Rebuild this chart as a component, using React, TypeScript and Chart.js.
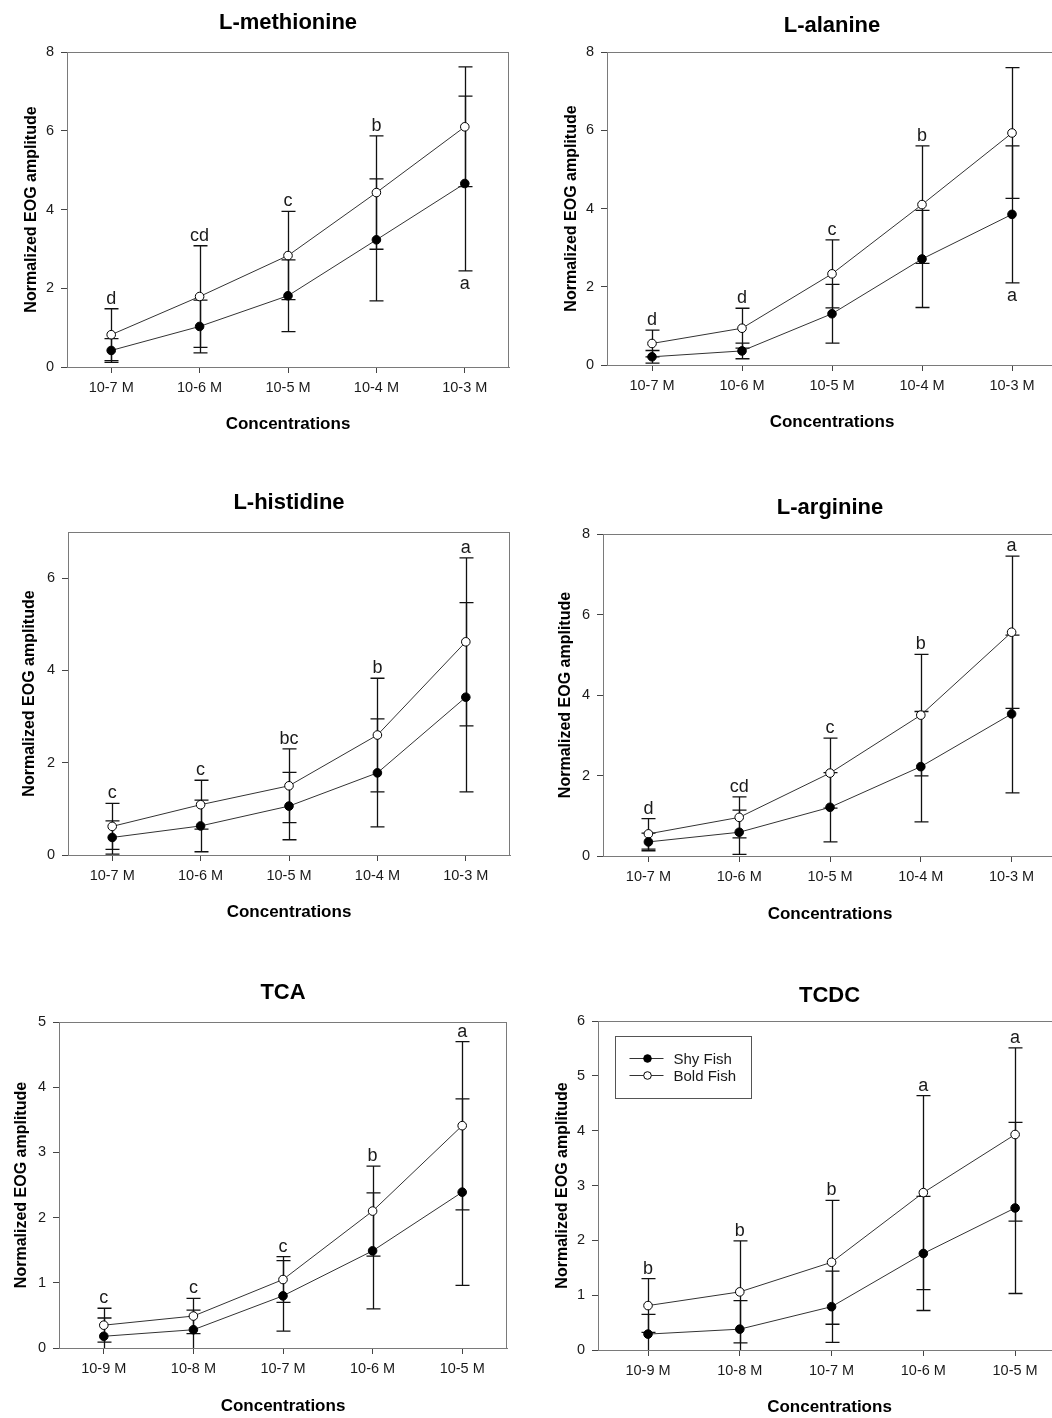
import React, { useEffect, useRef } from "react";
import { Chart, registerables } from "chart.js";

Chart.register(...registerables);

const FONT = "'Liberation Sans', Arial, Helvetica, sans-serif";

// ---------- data ----------
const aminoConcentrations = ["10-7 M", "10-6 M", "10-5 M", "10-4 M", "10-3 M"];
const bileConcentrations = ["10-9 M", "10-8 M", "10-7 M", "10-6 M", "10-5 M"];
const seriesNames = ["Shy Fish", "Bold Fish"];

const methionineShy = [0.42, 1.03, 1.81, 3.23, 4.66];
const methionineShySD = [0.3, 0.67, 0.91, 1.55, 2.22];
const methionineBold = [0.82, 1.79, 2.83, 4.43, 6.1];
const methionineBoldSD = [0.66, 1.29, 1.12, 1.44, 1.52];
const methionineLetters = ["d", "cd", "c", "b", "a"];

const alanineShy = [0.21, 0.36, 1.31, 2.71, 3.85];
const alanineShySD = [0.16, 0.2, 0.75, 1.24, 1.75];
const alanineBold = [0.55, 0.94, 2.33, 4.1, 5.93];
const alanineBoldSD = [0.34, 0.51, 0.87, 1.5, 1.67];
const alanineLetters = ["d", "d", "c", "b", "a"];

const histidineShy = [0.38, 0.63, 1.06, 1.78, 3.42];
const histidineShySD = [0.36, 0.56, 0.73, 1.17, 2.05];
const histidineBold = [0.62, 1.09, 1.5, 2.6, 4.62];
const histidineBoldSD = [0.5, 0.53, 0.8, 1.23, 1.82];
const histidineLetters = ["c", "c", "bc", "b", "a"];

const arginineShy = [0.35, 0.59, 1.21, 2.22, 3.53];
const arginineShySD = [0.22, 0.55, 0.86, 1.37, 1.96];
const arginineBold = [0.55, 0.96, 2.06, 3.5, 5.56];
const arginineBoldSD = [0.38, 0.51, 0.87, 1.51, 1.89];
const arginineLetters = ["d", "cd", "c", "b", "a"];

const tcaShy = [0.18, 0.28, 0.8, 1.49, 2.39];
const tcaShySD = [0.28, 0.3, 0.54, 0.89, 1.43];
const tcaBold = [0.35, 0.49, 1.05, 2.1, 3.41];
const tcaBoldSD = [0.26, 0.27, 0.35, 0.69, 1.29];
const tcaLetters = ["c", "c", "c", "b", "a"];

const tcdcShy = [0.29, 0.38, 0.79, 1.76, 2.59];
const tcdcShySD = [0.36, 0.52, 0.65, 1.04, 1.56];
const tcdcBold = [0.81, 1.06, 1.6, 2.87, 3.93];
const tcdcBoldSD = [0.49, 0.93, 1.13, 1.77, 1.58];
const tcdcLetters = ["b", "b", "b", "a", "a"];

// ---------- layout (page pixel targets) ----------
type Box = {
  cx: number; cy: number; cw: number; ch: number;
  L: number; T: number; R: number; B: number;
  titleY: number; yTitleX: number; xTitleY: number;
  xMin: number; xMax: number;
};

type PanelCfg = {
  title: string;
  labels: string[];
  shy: number[]; shySD: number[];
  bold: number[]; boldSD: number[];
  letters: string[];
  below: number[];
  yMax: number; yStep: number;
  legend: boolean;
  box: Box;
};

const PANELS: PanelCfg[] = [
  {
    title: "L-methionine", labels: aminoConcentrations,
    shy: methionineShy, shySD: methionineShySD, bold: methionineBold, boldSD: methionineBoldSD,
    letters: methionineLetters, below: [4], yMax: 8, yStep: 2, legend: false,
    box: { cx: 0, cy: 0, cw: 530, ch: 450, L: 67, T: 52, R: 509, B: 367, titleY: 23, yTitleX: 31.5, xTitleY: 424, xMin: -0.5, xMax: 4.5 },
  },
  {
    title: "L-alanine", labels: aminoConcentrations,
    shy: alanineShy, shySD: alanineShySD, bold: alanineBold, boldSD: alanineBoldSD,
    letters: alanineLetters, below: [4], yMax: 8, yStep: 2, legend: false,
    box: { cx: 530, cy: 0, cw: 545, ch: 450, L: 607, T: 52, R: 1057, B: 365, titleY: 25.5, yTitleX: 571.5, xTitleY: 422.5, xMin: -0.5, xMax: 4.5 },
  },
  {
    title: "L-histidine", labels: aminoConcentrations,
    shy: histidineShy, shySD: histidineShySD, bold: histidineBold, boldSD: histidineBoldSD,
    letters: histidineLetters, below: [], yMax: 7, yStep: 2, legend: false,
    box: { cx: 0, cy: 470, cw: 530, ch: 460, L: 68, T: 532, R: 510, B: 855, titleY: 503, yTitleX: 29.5, xTitleY: 912.5, xMin: -0.5, xMax: 4.5 },
  },
  {
    title: "L-arginine", labels: aminoConcentrations,
    shy: arginineShy, shySD: arginineShySD, bold: arginineBold, boldSD: arginineBoldSD,
    letters: arginineLetters, below: [], yMax: 8, yStep: 2, legend: false,
    box: { cx: 530, cy: 470, cw: 545, ch: 460, L: 603, T: 534, R: 1057, B: 856, titleY: 508, yTitleX: 566, xTitleY: 914, xMin: -0.5, xMax: 4.5 },
  },
  {
    title: "TCA", labels: bileConcentrations,
    shy: tcaShy, shySD: tcaShySD, bold: tcaBold, boldSD: tcaBoldSD,
    letters: tcaLetters, below: [], yMax: 5, yStep: 1, legend: false,
    box: { cx: 0, cy: 950, cw: 530, ch: 468, L: 59, T: 1022, R: 507, B: 1348, titleY: 993, yTitleX: 22, xTitleY: 1406.5, xMin: -0.5, xMax: 4.5 },
  },
  {
    title: "TCDC", labels: bileConcentrations,
    shy: tcdcShy, shySD: tcdcShySD, bold: tcdcBold, boldSD: tcdcBoldSD,
    letters: tcdcLetters, below: [], yMax: 6, yStep: 1, legend: true,
    box: { cx: 530, cy: 950, cw: 545, ch: 468, L: 598, T: 1021, R: 1061, B: 1350, titleY: 996, yTitleX: 563, xTitleY: 1407, xMin: -0.545, xMax: 4.5 },
  },
];

const TITLE_SIZE = 22;
const YTITLE_SIZE = 16;
const XTITLE_SIZE = 17;
const TICK_SIZE = 14.5;
const LETTER_SIZE = 18;
const LEGEND_SIZE = 15;
const AXIS_COLOR = "#7a7a7a";
const TEXT_COLOR = "#1a1a1a";

function makePlugins(cfg: PanelCfg) {
  const errors = [cfg.shySD, cfg.boldSD];
  const means = [cfg.shy, cfg.bold];

  const frame = {
    id: "frame",
    beforeDatasetsDraw(chart: any) {
      const { ctx, chartArea: a } = chart;
      ctx.save();
      ctx.strokeStyle = AXIS_COLOR;
      ctx.lineWidth = 1;
      ctx.beginPath();
      ctx.moveTo(a.left, a.top + 0.5);
      ctx.lineTo(a.right, a.top + 0.5);
      ctx.moveTo(a.right - 0.5, a.top);
      ctx.lineTo(a.right - 0.5, a.bottom);
      ctx.stroke();
      ctx.restore();
    },
  };

  const errorBars = {
    id: "errorBars",
    beforeDatasetsDraw(chart: any) {
      const { ctx, chartArea: a } = chart;
      const y = chart.scales.y;
      ctx.save();
      ctx.beginPath();
      ctx.rect(a.left, a.top - 2, a.right - a.left, a.bottom - a.top + 2);
      ctx.clip();
      ctx.strokeStyle = "#111";
      ctx.lineWidth = 1.3;
      chart.data.datasets.forEach((_: any, di: number) => {
        const meta = chart.getDatasetMeta(di);
        meta.data.forEach((pt: any, i: number) => {
          const m = means[di][i];
          const e = errors[di][i];
          const x = Math.round(pt.x) + 0.5;
          const hi = y.getPixelForValue(m + e);
          const lo = y.getPixelForValue(m - e);
          ctx.beginPath();
          ctx.moveTo(x, hi);
          ctx.lineTo(x, lo);
          ctx.moveTo(x - 7, hi);
          ctx.lineTo(x + 7, hi);
          ctx.moveTo(x - 7, lo);
          ctx.lineTo(x + 7, lo);
          ctx.stroke();
        });
      });
      ctx.restore();
    },
  };

  const letters = {
    id: "sigLetters",
    afterDatasetsDraw(chart: any) {
      const { ctx } = chart;
      const y = chart.scales.y;
      const xs = chart.scales.x;
      ctx.save();
      ctx.font = `${LETTER_SIZE}px ${FONT}`;
      ctx.fillStyle = TEXT_COLOR;
      ctx.textAlign = "center";
      ctx.textBaseline = "alphabetic";
      cfg.letters.forEach((t, i) => {
        const x = xs.getPixelForValue(i);
        if (cfg.below.includes(i)) {
          const low = Math.min(cfg.shy[i] - cfg.shySD[i], cfg.bold[i] - cfg.boldSD[i]);
          ctx.fillText(t, x, y.getPixelForValue(low) + 18);
        } else {
          const top = Math.max(cfg.shy[i] + cfg.shySD[i], cfg.bold[i] + cfg.boldSD[i]);
          ctx.fillText(t, x, y.getPixelForValue(top) - 5);
        }
      });
      ctx.restore();
    },
  };

  const legend = {
    id: "fishLegend",
    afterDraw(chart: any) {
      if (!cfg.legend) return;
      const { ctx, chartArea: a } = chart;
      const bx = Math.round(a.left + 17) + 0.5;
      const by = Math.round(a.top + 15) + 0.5;
      ctx.save();
      ctx.fillStyle = "#fff";
      ctx.fillRect(bx, by, 136, 62);
      ctx.strokeStyle = "#555";
      ctx.lineWidth = 1;
      ctx.strokeRect(bx, by, 136, 62);
      chart.data.datasets.forEach((ds: any, di: number) => {
        const ry = by + 22 + di * 17;
        ctx.strokeStyle = "#333";
        ctx.lineWidth = 1;
        ctx.beginPath();
        ctx.moveTo(bx + 14, ry);
        ctx.lineTo(bx + 48, ry);
        ctx.stroke();
        ctx.beginPath();
        ctx.arc(bx + 32, ry, 3.8, 0, Math.PI * 2);
        ctx.fillStyle = ds.pointBackgroundColor;
        ctx.fill();
        ctx.strokeStyle = "#000";
        ctx.stroke();
        ctx.fillStyle = TEXT_COLOR;
        ctx.font = `${LEGEND_SIZE}px ${FONT}`;
        ctx.textAlign = "left";
        ctx.textBaseline = "middle";
        ctx.fillText(ds.label, bx + 58, ry + 1);
      });
      ctx.restore();
    },
  };

  return [frame, errorBars, letters, legend];
}

function Panel({ cfg }: { cfg: PanelCfg }) {
  const ref = useRef<HTMLCanvasElement | null>(null);
  const b = cfg.box;

  useEffect(() => {
    if (!ref.current) return;
    const lhTitle = TITLE_SIZE * 1.2;
    const titlePadTop = b.titleY - b.cy - lhTitle / 2;
    const titlePadBottom = b.T - b.cy - titlePadTop - lhTitle;
    const yWidth = b.L - b.cx;
    const yTitlePad = b.yTitleX - b.cx - (YTITLE_SIZE * 1.2) / 2;
    const xHeight = b.ch - (b.B - b.cy);
    const xTitlePad = b.ch - (b.xTitleY - b.cy) - (XTITLE_SIZE * 1.2) / 2;
    const rightPad = b.cw - (b.R - b.cx);

    const chart = new Chart(ref.current, {
      type: "line",
      data: {
        datasets: [
          {
            label: seriesNames[0],
            data: cfg.shy.map((v, i) => ({ x: i, y: v })),
            borderColor: "#333",
            borderWidth: 1,
            pointRadius: 4.3,
            pointBackgroundColor: "#000",
            pointBorderColor: "#000",
            pointBorderWidth: 1,
            fill: false,
            tension: 0,
          },
          {
            label: seriesNames[1],
            data: cfg.bold.map((v, i) => ({ x: i, y: v })),
            borderColor: "#333",
            borderWidth: 1,
            pointRadius: 4.3,
            pointBackgroundColor: "#fff",
            pointBorderColor: "#000",
            pointBorderWidth: 1,
            fill: false,
            tension: 0,
          },
        ],
      },
      options: {
        responsive: false,
        animation: false,
        devicePixelRatio: 1,
        layout: { padding: { left: 0, top: 0, bottom: 0, right: rightPad } },
        plugins: {
          legend: { display: false },
          tooltip: { enabled: false },
          title: {
            display: true,
            text: cfg.title,
            fullSize: false,
            color: "#000",
            font: { family: FONT, size: TITLE_SIZE, weight: "bold", lineHeight: 1.2 },
            padding: { top: titlePadTop, bottom: titlePadBottom },
          },
        },
        scales: {
          x: {
            type: "linear",
            min: b.xMin,
            max: b.xMax,
            afterBuildTicks: (s: any) => {
              s.ticks = cfg.labels.map((_, i) => ({ value: i }));
            },
            afterFit: (s: any) => {
              s.height = xHeight;
            },
            ticks: {
              autoSkip: false,
              maxRotation: 0,
              padding: 6,
              color: TEXT_COLOR,
              font: { family: FONT, size: TICK_SIZE },
              callback: (v: any) => cfg.labels[Math.round(Number(v))] ?? "",
            },
            grid: { drawOnChartArea: false, drawTicks: true, tickLength: 6, color: "#444" },
            border: { display: true, color: AXIS_COLOR, width: 1 },
            title: {
              display: true,
              text: "Concentrations",
              color: "#000",
              font: { family: FONT, size: XTITLE_SIZE, weight: "bold", lineHeight: 1.2 },
              padding: { top: 0, bottom: xTitlePad },
            },
          },
          y: {
            type: "linear",
            min: 0,
            max: cfg.yMax,
            afterBuildTicks: (s: any) => {
              s.ticks = s.ticks.filter(
                (t: any) => Math.abs(t.value / cfg.yStep - Math.round(t.value / cfg.yStep)) < 1e-9
              );
            },
            afterFit: (s: any) => {
              s.width = yWidth;
            },
            ticks: {
              stepSize: cfg.yStep,
              padding: 7,
              color: TEXT_COLOR,
              font: { family: FONT, size: TICK_SIZE },
            },
            grid: { drawOnChartArea: false, drawTicks: true, tickLength: 6, color: "#444" },
            border: { display: true, color: AXIS_COLOR, width: 1 },
            title: {
              display: true,
              text: "Normalized EOG amplitude",
              color: "#000",
              font: { family: FONT, size: YTITLE_SIZE, weight: "bold", lineHeight: 1.2 },
              padding: { top: yTitlePad, bottom: 0 },
            },
          },
        },
      } as any,
      plugins: makePlugins(cfg) as any,
    });
    return () => chart.destroy();
  }, [cfg]);

  return (
    <canvas
      ref={ref}
      width={b.cw}
      height={b.ch}
      style={{ position: "absolute", left: b.cx, top: b.cy, width: b.cw, height: b.ch }}
    />
  );
}

export default function App() {
  return (
    <div
      style={{
        position: "absolute",
        left: 0,
        top: 0,
        width: 1052,
        height: 1418,
        overflow: "hidden",
        background: "#fff",
      }}
    >
      {PANELS.map((p) => (
        <Panel key={p.title} cfg={p} />
      ))}
    </div>
  );
}
